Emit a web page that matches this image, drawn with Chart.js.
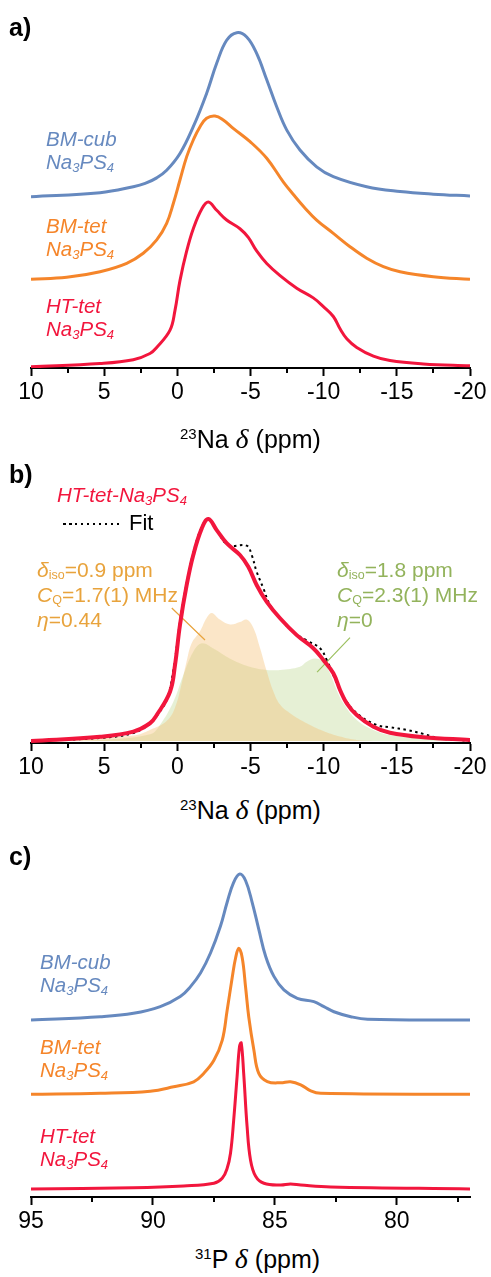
<!DOCTYPE html>
<html>
<head>
<meta charset="utf-8">
<script src="https://cdn.jsdelivr.net/npm/chart.js@4.4.0/dist/chart.umd.min.js"></script>
<style>
  body { margin: 0; background: #fff; width: 491px; height: 1277px; position: relative; overflow: hidden;
         font-family: 'Liberation Sans', Arial, sans-serif; }
  canvas { position: absolute; left: 0; }
  .tag { position: absolute; font-weight: bold; font-size: 25px; line-height: 25px; color: #000; }
  .lbl { position: absolute; font-style: italic; font-size: 20.5px; line-height: 22.5px; white-space: nowrap; }
  .lbl .s { font-size: 13px; vertical-align: -3px; line-height: 0; }
  .note { position: absolute; font-size: 21px; line-height: 25px; white-space: nowrap; }
  .note .s { font-size: 12.5px; vertical-align: -2px; line-height: 0; font-style: normal; }
  .ttl { position: absolute; font-size: 25px; line-height: 28px; white-space: nowrap; color: #000; }
  .ttl sup { font-size: 15px; vertical-align: 9px; line-height: 0; }
  .ttl .d { font-family: 'Liberation Serif', serif; font-style: italic; font-size: 28px; }
  .dots { position: absolute; height: 2px;
          background: repeating-linear-gradient(to right, #000 0 2.5px, transparent 2.5px 6px); }
</style>
</head>
<body>
<canvas id="chartA" width="491" height="406" style="top:0px"></canvas>
<canvas id="chartB" width="491" height="341" style="top:440px"></canvas>
<canvas id="chartC" width="491" height="385" style="top:850px"></canvas>

<div class="tag" style="left:9px;top:15px">a)</div>
<div class="tag" style="left:9px;top:462px">b)</div>
<div class="tag" style="left:9px;top:844px">c)</div>

<!-- panel a labels -->
<div class="lbl" style="left:46px;top:128px;color:#6689bf">BM-cub<br>Na<span class="s">3</span>PS<span class="s">4</span></div>
<div class="lbl" style="left:46px;top:215px;color:#f5852a">BM-tet<br>Na<span class="s">3</span>PS<span class="s">4</span></div>
<div class="lbl" style="left:46px;top:295px;color:#f2163d">HT-tet<br>Na<span class="s">3</span>PS<span class="s">4</span></div>
<div class="ttl" style="left:180px;top:425px"><sup>23</sup>Na <span class="d">δ</span> (ppm)</div>

<!-- panel b labels -->
<div class="lbl" style="left:57px;top:484px;color:#f2163d">HT-tet-Na<span class="s">3</span>PS<span class="s">4</span></div>
<div class="dots" style="left:63px;top:523px;width:60px"></div>
<div class="lbl" style="left:129px;top:512px;color:#000;font-style:normal;font-size:22px">Fit</div>
<div class="note" style="left:37px;top:557px;color:#e8a33c"><i>δ</i><span class="s">iso</span>=0.9 ppm<br><i>C</i><span class="s">Q</span>=1.7(1) MHz<br><i>η</i>=0.44</div>
<div class="note" style="left:337px;top:557px;color:#93b35c"><i>δ</i><span class="s">iso</span>=1.8 ppm<br><i>C</i><span class="s">Q</span>=2.3(1) MHz<br><i>η</i>=0</div>
<div class="ttl" style="left:180px;top:796px"><sup>23</sup>Na <span class="d">δ</span> (ppm)</div>

<!-- panel c labels -->
<div class="lbl" style="left:40px;top:951px;color:#6689bf">BM-cub<br>Na<span class="s">3</span>PS<span class="s">4</span></div>
<div class="lbl" style="left:40px;top:1036px;color:#f5852a">BM-tet<br>Na<span class="s">3</span>PS<span class="s">4</span></div>
<div class="lbl" style="left:40px;top:1125px;color:#f2163d">HT-tet<br>Na<span class="s">3</span>PS<span class="s">4</span></div>
<div class="ttl" style="left:195px;top:1245px"><sup>31</sup>P <span class="d">δ</span> (ppm)</div>

<script>
// ---- tick values ----
const naTicks = [10, 5, 0, -5, -10, -15, -20];
const naMinorTicks = [7.5, 2.5, -2.5, -7.5, -12.5, -17.5];
const pTicks = [95, 90, 85, 80];
const pMinorTicks = [92.5, 87.5, 82.5, 77.5];

// ---- 23Na spectra (ppm, intensity in % of peak) ----
const naCubPpm = [10, 5.28, 3.01, 2.2, 1.41, 0.73, -0.18, -1.09, -2.0, -2.69, -3.37, -4.06, -4.74, -5.42, -6.11,
  -6.79, -7.48, -8.38, -9.52, -10.66, -12.94, -15.22, -17.49, -20];
const naCubInt = [0, 2.4, 6, 8, 11.4, 16, 26.2, 42.5, 62.7, 81, 95, 99.6, 97, 87, 71,
  54.6, 40.4, 28.3, 18.1, 12.1, 6, 3.1, 1.5, 0.4];

const naTetPpm = [10, 7.56, 5.28, 3.46, 2.33, 1.41, 0.73, 0.27, -0.18, -0.64, -1.09, -1.55, -2.0, -2.57,
  -3.14, -3.82, -4.97, -6.11, -7.25, -7.93, -8.7, -9.52, -10.66, -11.8, -12.94, -14.08, -15.22, -17.49, -20];
const naTetInt = [0, 1.2, 4.6, 9.7, 15.8, 23.9, 34.0, 46.2, 60.3, 74.5, 84.6, 92.7, 97.8, 99.2,
  96.8, 91.7, 83.6, 73.5, 59, 51.5, 43.5, 36.0, 27.9, 19.8, 12.8, 7.7, 4.6, 1.6, 0];

const naHtPpm = [10, 5.28, 3.01, 1.87, 1.41, 0.50, 0.16, -0.18, -0.64, -1.09, -1.67, -2.12, -2.69, -3.37,
  -4.28, -4.85, -5.42, -6.11, -7.02, -8.16, -9.29, -9.98, -10.66, -11.12, -11.58, -12.26, -13.40, -14.53, -16.81, -20];
const naHtInt = [0, 1.9, 4.2, 8.0, 11.7, 22.2, 34.2, 52.3, 70.3, 83.8, 95.8, 100, 95, 89.1,
  83.8, 78.5, 70.3, 62.7, 55.3, 47.7, 41.8, 36.5, 30.5, 23.0, 17.0, 11.7, 6.4, 3.7, 1.7, 0.5];

// fit of HT-tet and its two quadrupolar components
const fitPpm = [10, 5.28, 3.01, 1.87, 1.41, 0.73, 0.27, -0.18, -0.64, -1.09, -1.67, -2.12, -2.69, -3.48,
  -4.74, -5.08, -5.42, -5.88, -6.33, -7.02, -7.93, -8.84, -9.75, -10.21, -10.66, -11.35, -12.26, -13.63,
  -14.53, -15.67, -16.81, -17.95, -20];
const fitInt = [0, 1.4, 3.6, 7.7, 11.3, 18.5, 32, 53.6, 71.2, 84.7, 96.4, 100, 95, 88.3,
  88.0, 83.8, 76.3, 68.8, 61.3, 55.3, 49.1, 45.3, 41.8, 36.5, 29.7, 20.0, 12.5, 7.2,
  6.2, 5.0, 3.2, 1.2, 0.1];

const site1Ppm = [10, 3.01, 1.87, 0.73, 0.16, -0.30, -0.64, -0.98, -1.55, -2.0, -2.35, -2.91, -3.60, -4.28,
  -4.74, -5.19, -5.65, -6.11, -6.56, -7.02, -7.70, -8.84, -9.98, -11.12, -12.26, -14.53, -20];
const site1Int = [0, 2.5, 5, 9, 15, 26, 36, 44, 49.4, 55.4, 57.7, 54.7, 52.5, 53.6,
  54.7, 51, 41.9, 31.4, 22.4, 16.4, 12.5, 8, 4.5, 2, 0.5, 0, 0];

const site2Ppm = [10, 5.28, 1.87, 1.19, 0.27, -0.41, -1.09, -1.67, -2.46, -3.37, -4.28, -5.19, -6.11, -7.02,
  -8.38, -8.84, -9.41, -9.98, -10.43, -10.89, -11.35, -12.26, -13.40, -14.53, -16.81, -20];
const site2Int = [0, 0.5, 3, 7.2, 17.7, 29.7, 40.2, 44, 41.7, 38, 35, 33, 32, 32,
  33.5, 35.7, 37.2, 35.7, 30.5, 23, 17, 9.5, 5, 2.7, 1.2, 0.5];

// annotation pointers (ppm, intensity)
const pointer1Ppm = [0.38, -1.89];
const pointer1Int = [59.9, 45.5];
const pointer2Ppm = [-11.8, -9.55];
const pointer2Int = [46.6, 31.0];

// ---- 31P spectra ----
const pCubPpm = [95, 92.16, 90.80, 89.70, 88.88, 88.46, 88.05, 87.64, 87.23, 86.96, 86.69, 86.44, 86.20,
  85.93, 85.66, 85.38, 85.04, 84.63, 84.08, 83.40, 82.99, 82.58, 81.89, 81.20, 77];
const pCubInt = [0, 2.3, 4.6, 9.2, 16.1, 22.9, 32.2, 45.9, 64.4, 80.5, 94.3, 100, 95.4,
  80.5, 62.1, 43.7, 29.9, 20.7, 14.9, 12.6, 9.2, 5.7, 2.3, 0.5, 0];

const pTetPpm = [95, 92.16, 90.11, 89.15, 88.33, 87.91, 87.50, 87.16, 86.96, 86.75, 86.61, 86.48, 86.34,
  86.20, 86.07, 85.86, 85.66, 85.31, 84.77, 84.36, 83.94, 83.53, 83.12, 77];
const pTetInt = [0, 0.7, 2.2, 5.2, 8.6, 14.5, 23.3, 37, 57.3, 80, 93.6, 100, 93.6,
  73.2, 52.8, 30.2, 14.4, 8.8, 7.9, 8.6, 6.5, 2.4, 0.7, 0];

const pHtPpm = [95, 90.80, 88.74, 87.50, 87.16, 86.96, 86.82, 86.69, 86.55, 86.45, 86.38, 86.28, 86.14,
  86.00, 85.79, 85.45, 84.77, 84.36, 83.94, 82.71, 77];
const pHtInt = [0, 0.9, 2.1, 3.9, 7.3, 14, 24.5, 47, 77, 97.6, 100, 79.4, 42.8,
  19.9, 8.7, 3.9, 2.7, 3.4, 2.7, 1.4, 0];

// ---- colours ----
const BLUE = '#6689bf';
const ORANGE = '#f5852a';
const RED = '#f2163d';
const FONT = "'Liberation Sans', Arial, sans-serif";

const toPoints = (xs, ys, offset = 0) => xs.map((x, i) => ({ x, y: ys[i] + offset }));

const lineSet = (xs, ys, color, offset = 0, width = 3) => ({
  data: toPoints(xs, ys, offset),
  borderColor: color,
  borderWidth: width,
  pointRadius: 0,
  fill: false,
  tension: 0.4
});

// short minor ticks under the x axis
const minorTickPlugin = {
  id: 'minorTicks',
  afterDraw(chart, args, opts) {
    const { ctx, chartArea, scales: { x } } = chart;
    ctx.save();
    ctx.strokeStyle = '#000';
    ctx.lineWidth = 2;
    (opts.values || []).forEach(v => {
      const px = Math.round(x.getPixelForValue(v));
      ctx.beginPath();
      ctx.moveTo(px, chartArea.bottom);
      ctx.lineTo(px, chartArea.bottom + 5);
      ctx.stroke();
    });
    ctx.restore();
  }
};

function makeChart(id, datasets, cfg) {
  return new Chart(document.getElementById(id), {
    type: 'line',
    data: { datasets },
    plugins: [minorTickPlugin],
    options: {
      responsive: false,
      animation: false,
      devicePixelRatio: 1,
      layout: { padding: { top: cfg.padTop, left: 31, right: 21, bottom: 0 } },
      plugins: {
        legend: { display: false },
        tooltip: { enabled: false },
        minorTicks: { values: cfg.minor }
      },
      scales: {
        x: {
          type: 'linear',
          reverse: true,
          min: cfg.xMin,
          max: cfg.xMax,
          afterBuildTicks: axis => { axis.ticks = cfg.major.map(v => ({ value: v })); },
          afterFit: axis => { axis.height = 38; },
          ticks: {
            color: '#000', padding: 3, maxRotation: 0, autoSkip: false,
            font: { family: FONT, size: 23 },
            callback: v => String(v)
          },
          grid: { drawOnChartArea: false, drawTicks: true, tickLength: 8, tickWidth: 2, tickColor: '#000' },
          border: { display: true, color: '#000', width: 2 }
        },
        y: { display: false, min: cfg.yMin, max: cfg.yMax }
      }
    }
  });
}

// a) 23Na, three samples stacked
makeChart('chartA', [
  lineSet(naHtPpm, naHtInt, RED, 0.8),
  lineSet(naTetPpm, naTetInt, ORANGE, 53.9),
  lineSet(naCubPpm, naCubInt, BLUE, 104.1)
], { xMin: -20, xMax: 10, yMin: 0, yMax: 211.4, padTop: 20, major: naTicks, minor: naMinorTicks });

// b) HT-tet with fit and components
makeChart('chartB', [
  lineSet(naHtPpm, naHtInt, RED, 0, 4),
  Object.assign(lineSet(fitPpm, fitInt, '#000', 0, 2), { borderDash: [2.5, 3.5] }),
  lineSet(pointer1Ppm, pointer1Int, '#e8a33c', 0, 1.2),
  lineSet(pointer2Ppm, pointer2Int, '#9cc060', 0, 1.2),
  Object.assign(lineSet(site1Ppm, site1Int, 'rgba(0,0,0,0)', 0, 0),
    { fill: 'origin', backgroundColor: 'rgba(245, 190, 110, 0.38)' }),
  Object.assign(lineSet(site2Ppm, site2Int, 'rgba(0,0,0,0)', 0, 0),
    { fill: 'origin', backgroundColor: 'rgba(165, 200, 105, 0.28)' })
], { xMin: -20, xMax: 10, yMin: -0.9, yMax: 126.6, padTop: 20, major: naTicks, minor: naMinorTicks });

// c) 31P, three samples stacked
makeChart('chartC', [
  lineSet(pHtPpm, pHtInt, RED, 5.5),
  lineSet(pTetPpm, pTetInt, ORANGE, 70.3),
  lineSet(pCubPpm, pCubInt, BLUE, 121.2)
], { xMin: 77, xMax: 95, yMin: 0, yMax: 227.4, padTop: 15, major: pTicks, minor: pMinorTicks });
</script>
</body>
</html>
